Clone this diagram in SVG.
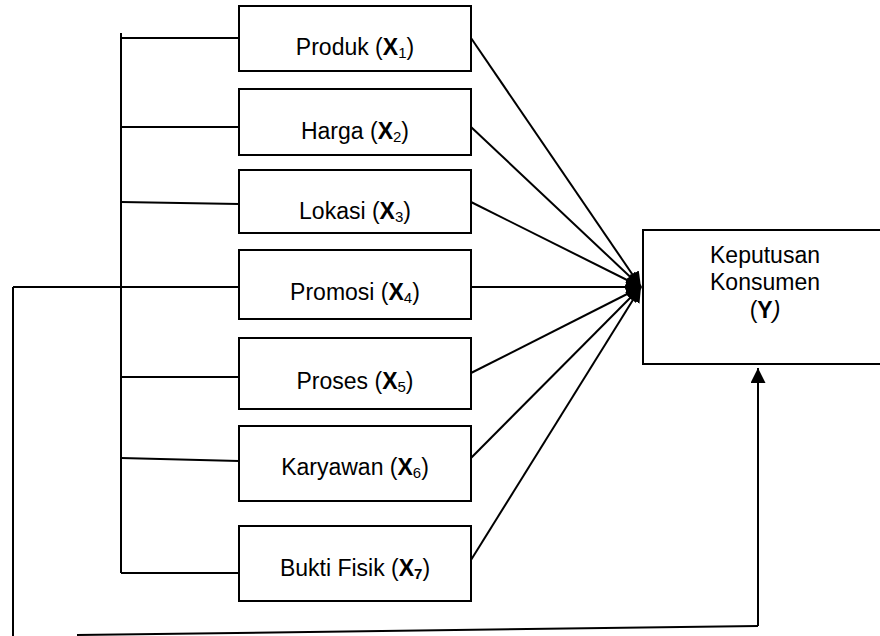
<svg xmlns="http://www.w3.org/2000/svg" width="880" height="636" viewBox="0 0 880 636">
  <defs>
    <marker id="arrow" viewBox="0 0 10 10" refX="10" refY="5" markerWidth="7.5" markerHeight="7.5" markerUnits="strokeWidth" orient="auto">
      <path d="M0,0 L10,5 L0,10 z" fill="#000"/>
    </marker>
    <style>
      .box { fill: #fff; stroke: #000; stroke-width: 2; }
      .wire { fill: none; stroke: #000; stroke-width: 2; }
      .label { font-family: "Liberation Sans", Arial, sans-serif; font-size: 23px; fill: #000; text-anchor: middle; }
      .b { font-weight: bold; }
      .sub { font-size: 15px; }
    </style>
  </defs>
  <rect width="880" height="636" fill="#fff"/>

  <g id="connectors">
    <!-- left bus linking the variables -->
    <line class="wire" x1="121" y1="33" x2="121" y2="573"/>
    <line class="wire" x1="121" y1="38" x2="239" y2="38"/>
    <line class="wire" x1="121" y1="127" x2="239" y2="127"/>
    <line class="wire" x1="121" y1="202" x2="239" y2="204"/>
    <line class="wire" x1="13" y1="287" x2="239" y2="287"/>
    <line class="wire" x1="121" y1="377" x2="239" y2="377"/>
    <line class="wire" x1="121" y1="458" x2="239" y2="461"/>
    <line class="wire" x1="121" y1="573" x2="239" y2="573"/>
    <!-- simultaneous path -->
    <line class="wire" x1="13" y1="287" x2="13" y2="636"/>
    <line class="wire" x1="77" y1="635" x2="758" y2="626"/>
    <line class="wire" x1="758" y1="626" x2="758" y2="368" marker-end="url(#arrow)"/>
    <!-- partial paths into Y -->
    <line class="wire" x1="471" y1="38" x2="641" y2="287" marker-end="url(#arrow)"/>
    <line class="wire" x1="471" y1="127" x2="641" y2="287" marker-end="url(#arrow)"/>
    <line class="wire" x1="471" y1="202" x2="641" y2="287" marker-end="url(#arrow)"/>
    <line class="wire" x1="471" y1="287" x2="641" y2="287" marker-end="url(#arrow)"/>
    <line class="wire" x1="471" y1="373" x2="641" y2="287" marker-end="url(#arrow)"/>
    <line class="wire" x1="471" y1="458" x2="641" y2="287" marker-end="url(#arrow)"/>
    <line class="wire" x1="471" y1="560" x2="641" y2="287" marker-end="url(#arrow)"/>
  </g>

  <g id="x1">
    <rect class="box" x="239" y="6" width="232" height="65"/>
    <text class="label" x="355" y="55">Produk (<tspan class="b">X</tspan><tspan class="sub" dy="3">1</tspan><tspan dy="-3">)</tspan></text>
  </g>
  <g id="x2">
    <rect class="box" x="239" y="89" width="232" height="66"/>
    <text class="label" x="355" y="139">Harga (<tspan class="b">X</tspan><tspan class="sub" dy="3">2</tspan><tspan dy="-3">)</tspan></text>
  </g>
  <g id="x3">
    <rect class="box" x="239" y="170" width="232" height="63"/>
    <text class="label" x="355" y="219">Lokasi (<tspan class="b">X</tspan><tspan class="sub" dy="3">3</tspan><tspan dy="-3">)</tspan></text>
  </g>
  <g id="x4">
    <rect class="box" x="239" y="250" width="232" height="69"/>
    <text class="label" x="355" y="300">Promosi (<tspan class="b">X</tspan><tspan class="sub" dy="3">4</tspan><tspan dy="-3">)</tspan></text>
  </g>
  <g id="x5">
    <rect class="box" x="239" y="338" width="232" height="71"/>
    <text class="label" x="355" y="389">Proses (<tspan class="b">X</tspan><tspan class="sub" dy="3">5</tspan><tspan dy="-3">)</tspan></text>
  </g>
  <g id="x6">
    <rect class="box" x="239" y="426" width="232" height="75"/>
    <text class="label" x="355" y="475">Karyawan (<tspan class="b">X</tspan><tspan class="sub" dy="3">6</tspan><tspan dy="-3">)</tspan></text>
  </g>
  <g id="x7">
    <rect class="box" x="239" y="526" width="232" height="75"/>
    <text class="label" x="355" y="576">Bukti Fisik (<tspan class="b">X</tspan><tspan class="sub b" dy="3">7</tspan><tspan dy="-3">)</tspan></text>
  </g>
  <g id="y">
    <rect class="box" x="643" y="230" width="250" height="134"/>
    <text class="label" x="765" y="263">Keputusan</text>
    <text class="label" x="765" y="290">Konsumen</text>
    <text class="label" x="765" y="318">(<tspan class="b">Y</tspan><tspan font-style="italic">)</tspan></text>
  </g>
</svg>
